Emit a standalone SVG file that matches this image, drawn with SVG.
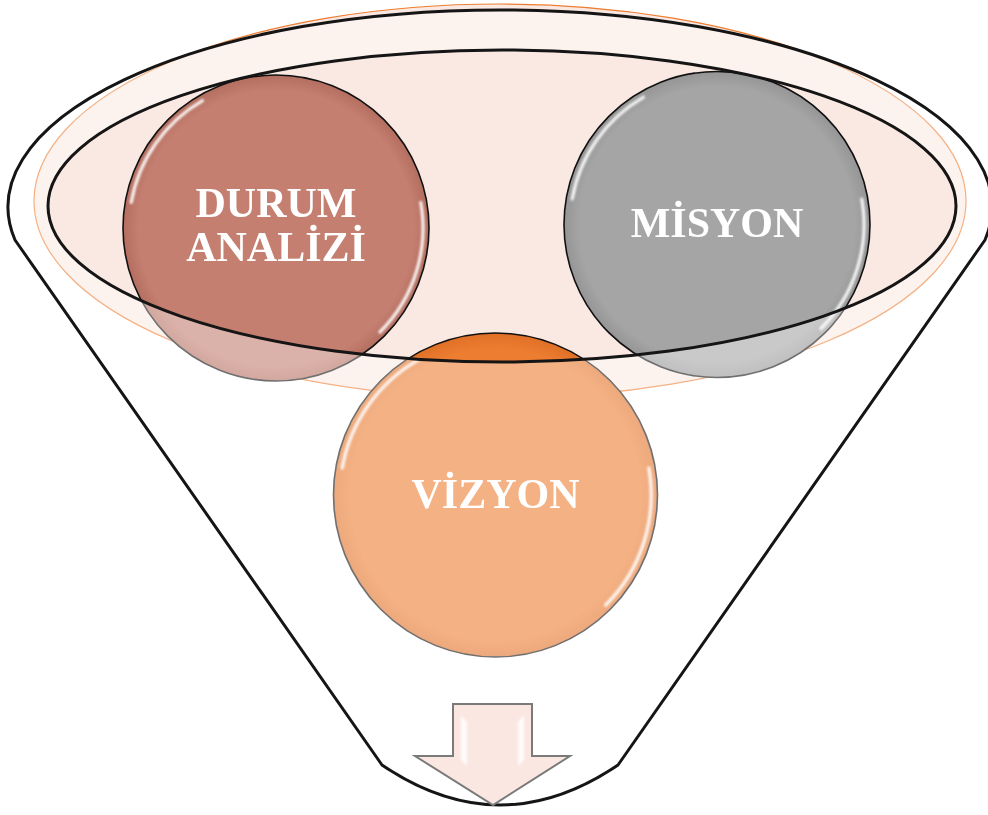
<svg xmlns="http://www.w3.org/2000/svg" xmlns:xlink="http://www.w3.org/1999/xlink" width="988" height="815" viewBox="0 0 988 815">
<style>
.line{fill:none;stroke:#151515;stroke-width:3;stroke-linejoin:round}
.circ{stroke:#111;stroke-width:1.6}
.lbl{font-family:"Liberation Serif","Times New Roman",serif;font-weight:bold;font-size:42px;fill:#ffffff;text-anchor:middle}
.hl{fill:none;stroke:#ffffff;stroke-width:3.2;stroke-linecap:round;opacity:0.9}
</style>
<defs>
<filter id="soft" x="-20%" y="-20%" width="140%" height="140%"><feGaussianBlur stdDeviation="0.9"/></filter>
<radialGradient id="gTerra" cx="0.5" cy="0.5" r="0.5"><stop offset="0" stop-color="#C47F70"/><stop offset="0.9" stop-color="#C47F70"/><stop offset="1" stop-color="#B36E60"/></radialGradient>
<radialGradient id="gGray" cx="0.5" cy="0.5" r="0.5"><stop offset="0" stop-color="#A5A5A5"/><stop offset="0.9" stop-color="#A5A5A5"/><stop offset="1" stop-color="#959595"/></radialGradient>
<radialGradient id="gOrange" cx="0.5" cy="0.5" r="0.5"><stop offset="0" stop-color="#ED7D31"/><stop offset="0.9" stop-color="#ED7D31"/><stop offset="1" stop-color="#E07026"/></radialGradient>
<g id="hl" filter="url(#soft)">
<path class="hl" d="M-144.8,-25.5 A147,147 0 0 1 -73.5,-127.3"/>
<path class="hl" d="M144.8,-25.5 A147,147 0 0 1 104,104"/>
</g>
</defs>
<g id="funnel-body">
<path d="M15,240 A492,197 0 1 1 985,240 L618,765 Q500,845 382,765 Z" fill="#ffffff"/>
<ellipse cx="500" cy="201" rx="466" ry="197" fill="#FAE9E3" stroke="#ED7D31" stroke-width="1.2"/>
</g>
<g id="node-durum">
<circle class="circ" cx="276" cy="228" r="153" fill="url(#gTerra)"/>
<use xlink:href="#hl" transform="translate(276,228)"/>
<text class="lbl" x="276" y="217">DURUM</text>
<text class="lbl" x="276" y="261">ANALİZİ</text>
</g>
<g id="node-misyon">
<circle class="circ" cx="717" cy="224.5" r="153" fill="url(#gGray)"/>
<use xlink:href="#hl" transform="translate(717,224.5)"/>
<text class="lbl" x="717" y="237">MİSYON</text>
</g>
<g id="node-vizyon">
<circle class="circ" cx="495.5" cy="495" r="162" fill="url(#gOrange)"/>
<use xlink:href="#hl" transform="translate(495.5,495) scale(1.059)"/>
</g>
<g id="funnel-front">
<path d="M15,240 A492,197 0 1 1 985,240 L618,765 Q500,845 382,765 Z M48,206 A454,156 0 1 0 956,206 A454,156 0 1 0 48,206 Z" fill="#ffffff" fill-opacity="0.4" fill-rule="evenodd"/>
<text class="lbl" x="495.5" y="508">VİZYON</text>
<path class="line" d="M15,240 A492,197 0 1 1 985,240 L618,765 Q500,845 382,765 Z"/>
<ellipse class="line" cx="502" cy="206" rx="454" ry="156"/>
</g>
<g id="connectors">
<path d="M453,704 L532,704 L532,756 L570,756 L493,805 L415,756 L453,756 Z" fill="#FAE7E1" stroke="#7a7a7a" stroke-width="2" stroke-linejoin="miter"/>
<path d="M461,715 L467,722 L467,766 L461,760 Z" fill="#ffffff" opacity="0.85" filter="url(#soft)"/>
<path d="M524,715 L518,722 L518,766 L524,760 Z" fill="#ffffff" opacity="0.85" filter="url(#soft)"/>
</g>
</svg>
